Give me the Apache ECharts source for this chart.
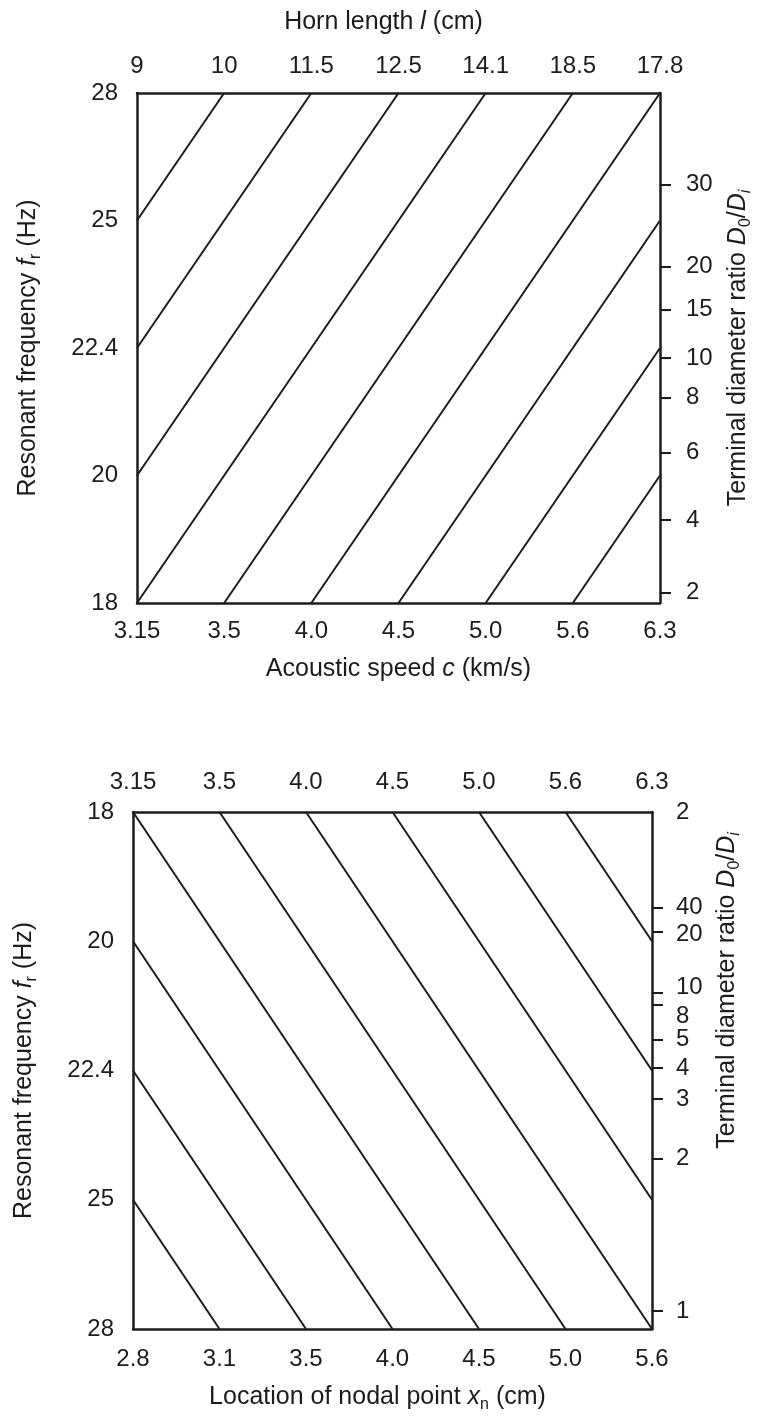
<!DOCTYPE html>
<html>
<head>
<meta charset="utf-8">
<script src="https://cdn.jsdelivr.net/npm/echarts@6/dist/echarts.min.js"></script>
<style>
html, body { margin: 0; padding: 0; background: #fff; }
#chart { width: 758px; height: 1420px; }
</style>
</head>
<body>
<div id="chart"></div>
<script>
// tick labels
const speedLabels = ['3.15', '3.5', '4.0', '4.5', '5.0', '5.6', '6.3'];
const hornLabels = ['9', '10', '11.5', '12.5', '14.1', '18.5', '17.8'];
const nodalLabels = ['2.8', '3.1', '3.5', '4.0', '4.5', '5.0', '5.6'];
const freqLabels = ['18', '20', '22.4', '25', '28'];

// right hand ratio scale: labels, where their ticks sit on the frequency steps,
// and where the labels are printed (some are nudged apart in the original)
const ratioTopLabels = ['30', '20', '15', '10', '8', '6', '4', '2'];
const ratioTopTicks = [3.28, 2.64, 2.30, 1.92, 1.61, 1.18, 0.65, 0.08];
const ratioTopLabelPos = [3.28, 2.64, 2.30, 1.92, 1.61, 1.18, 0.65, 0.08];
const ratioBottomLabels = ['2', '40', '20', '10', '8', '5', '4', '3', '2', '1'];
const ratioBottomTicks = [0.74, 0.93, 1.40, 1.49, 1.76, 1.98, 2.22, 2.68, 3.86];
const ratioBottomLabelPos = [0, 0.74, 0.95, 1.36, 1.58, 1.76, 1.98, 2.22, 2.68, 3.86];

// guide lines, [x step, frequency step] at both ends
const topLines = [
    [[0, 3], [1, 4]],
    [[0, 2], [2, 4]],
    [[0, 1], [3, 4]],
    [[0, 0], [4, 4]],
    [[1, 0], [5, 4]],
    [[2, 0], [6, 4]],
    [[3, 0], [6, 3]],
    [[4, 0], [6, 2]],
    [[5, 0], [6, 1]]
];
const bottomLines = [
    [[0, 3], [1, 4]],
    [[0, 2], [2, 4]],
    [[0, 1], [3, 4]],
    [[0, 0], [4, 4]],
    [[1, 0], [5, 4]],
    [[2, 0], [6, 4]],
    [[3, 0], [6, 3]],
    [[4, 0], [6, 2]],
    [[5, 0], [6, 1]]
];

const FONT = 'Liberation Sans';
const INK = '#1c1c1c';
const FS = 24;
const TS = 25;

const rich = {
    t: { fontFamily: FONT, fontSize: TS, color: INK },
    i: { fontFamily: FONT, fontSize: TS, color: INK, fontStyle: 'italic' },
    s: { fontFamily: FONT, fontSize: 16, color: INK, verticalAlign: 'bottom', padding: [0, 0, -3, 0] },
    si: { fontFamily: FONT, fontSize: 16, color: INK, fontStyle: 'italic', verticalAlign: 'bottom', padding: [0, 0, -3, 0] }
};

function nameStyle(padding) {
    return { fontFamily: FONT, fontSize: TS, color: INK, rich: rich, padding: padding || 0 };
}

const border = { show: true, onZero: false, lineStyle: { color: INK, width: 2.5 } };
const labelStyle = { fontFamily: FONT, fontSize: FS, color: INK };

function stepAxis(grid, pos, labels, margin, extra) {
    return Object.assign({
        type: 'value',
        gridIndex: grid,
        position: pos,
        min: 0,
        max: 6,
        interval: 1,
        axisLine: border,
        axisTick: { show: false },
        splitLine: { show: false },
        axisLabel: Object.assign({ formatter: v => labels[v], margin: margin }, labelStyle)
    }, extra || {});
}

function freqAxis(grid, inverse, extra) {
    return Object.assign({
        type: 'value',
        gridIndex: grid,
        position: 'left',
        min: 0,
        max: 4,
        interval: 1,
        inverse: inverse,
        axisLine: border,
        axisTick: { show: false },
        splitLine: { show: false },
        axisLabel: Object.assign({ formatter: v => freqLabels[v], margin: 19 }, labelStyle)
    }, extra || {});
}

function ratioAxis(grid, inverse, labels, labelPos, tickPos, margin, extra) {
    return Object.assign({
        type: 'value',
        gridIndex: grid,
        position: 'right',
        min: 0,
        max: 4,
        inverse: inverse,
        axisLine: border,
        axisTick: { show: true, inside: false, length: 11, customValues: tickPos, lineStyle: { color: INK, width: 2 } },
        splitLine: { show: false },
        axisLabel: Object.assign({
            customValues: labelPos,
            formatter: v => labels[labelPos.indexOf(v)],
            margin: margin
        }, labelStyle)
    }, extra || {});
}

function lineSeries(lines, xi, yi) {
    return lines.map(seg => ({
        type: 'line',
        xAxisIndex: xi,
        yAxisIndex: yi,
        data: seg,
        symbol: 'none',
        silent: true,
        lineStyle: { color: INK, width: 2 }
    }));
}

const chart = echarts.init(document.getElementById('chart'), null, { renderer: 'canvas' });
chart.setOption({
    animation: false,
    backgroundColor: '#fff',
    grid: [
        { left: 137, top: 93, width: 523, height: 510, outerBoundsMode: 'none' },
        { left: 133, top: 812, width: 519, height: 517, outerBoundsMode: 'none' }
    ],
    xAxis: [
        stepAxis(0, 'bottom', speedLabels, 16, {
            name: '{t|Acoustic speed }{i|c}{t| (km/s)}',
            nameLocation: 'middle',
            nameGap: 54,
            nameTextStyle: nameStyle()
        }),
        stepAxis(0, 'top', hornLabels, 15, {
            name: '{t|Horn length }{i|l}{t| (cm)}',
            nameLocation: 'middle',
            nameGap: 58,
            nameTextStyle: nameStyle([0, 30, 0, 0])
        }),
        stepAxis(1, 'bottom', nodalLabels, 18, {
            name: '{t|Location of nodal point }{i|x}{s|n}{t| (cm)}',
            nameLocation: 'middle',
            nameGap: 56,
            nameTextStyle: nameStyle([0, 30, 0, 0])
        }),
        stepAxis(1, 'top', speedLabels, 18)
    ],
    yAxis: [
        freqAxis(0, false, {
            name: '{t|Resonant frequency }{i|f}{s|r}{t| (Hz)}',
            nameLocation: 'middle',
            nameRotate: 90,
            nameGap: 96,
            nameTextStyle: nameStyle()
        }),
        ratioAxis(0, false, ratioTopLabels, ratioTopLabelPos, ratioTopTicks, 26, {
            name: '{t|Terminal diameter ratio }{i|D}{s|0}{t|/}{i|D}{si|i}',
            nameLocation: 'middle',
            nameRotate: 90,
            nameGap: 66,
            nameTextStyle: nameStyle()
        }),
        freqAxis(1, true, {
            name: '{t|Resonant frequency }{i|f}{s|r}{t| (Hz)}',
            nameLocation: 'middle',
            nameRotate: 90,
            nameGap: 96,
            nameTextStyle: nameStyle()
        }),
        ratioAxis(1, true, ratioBottomLabels, ratioBottomLabelPos, ratioBottomTicks, 24, {
            name: '{t|Terminal diameter ratio }{i|D}{s|0}{t|/}{i|D}{si|i}',
            nameLocation: 'middle',
            nameRotate: 90,
            nameGap: 63,
            nameTextStyle: nameStyle([0, 0, 0, 160])
        })
    ],
    series: [].concat(
        lineSeries(topLines, 0, 0),
        lineSeries(bottomLines, 2, 2)
    )
});
</script>
</body>
</html>
